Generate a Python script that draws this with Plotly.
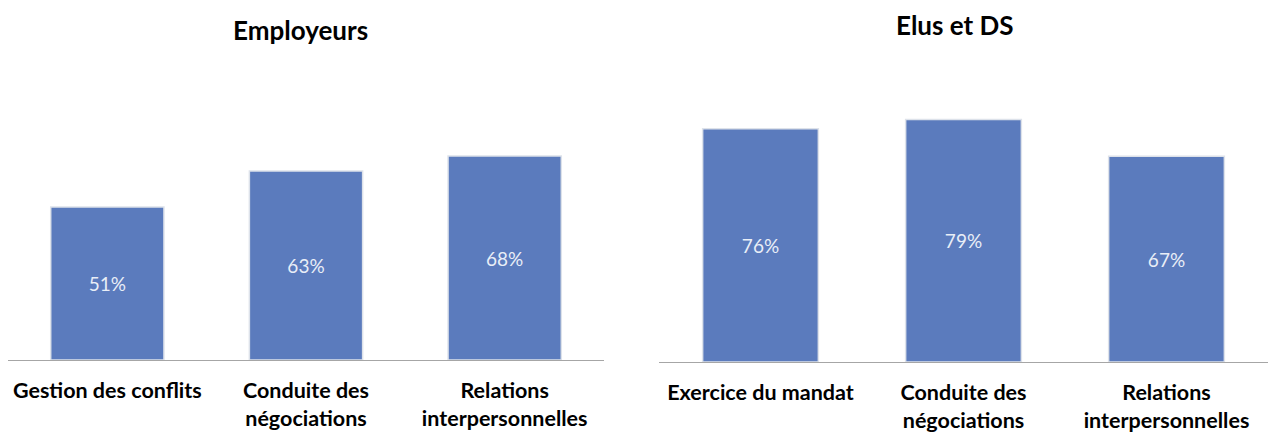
import plotly.graph_objects as go

# Data
employeurs_labels = ["Gestion des conflits", "Conduite des<br>négociations", "Relations<br>interpersonnelles"]
employeurs_values = [51, 63, 68]
elus_labels = ["Exercice du mandat", "Conduite des<br>négociations", "Relations<br>interpersonnelles"]
elus_values = [76, 79, 67]

W, H = 1268, 432
BAR_COLOR = "#5b7bbd"
FONT = "Lato"

fig = go.Figure()

def add_bars(labels, values, xa, ya):
    fig.add_trace(go.Bar(
        x=labels, y=values, xaxis=xa, yaxis=ya,
        width=0.57,
        marker=dict(color=BAR_COLOR, line=dict(color="#dde2ea", width=1.5)),
        texttemplate="%{y}%", textposition="inside", insidetextanchor="middle",
        textangle=0, constraintext="none",
        textfont=dict(family=FONT, size=19, color="#e9eef7"),
        showlegend=False, hoverinfo="skip",
    ))

add_bars(employeurs_labels, employeurs_values, "x", "y")
add_bars(elus_labels, elus_values, "x2", "y2")

def px_x(a, b):
    return [a / W, b / W]

def px_y(top, bottom):
    return [(H - bottom) / H, (H - top) / H]

axis_common = dict(
    showline=True, linecolor="#a6a6a6", linewidth=1,
    showgrid=False, zeroline=False, ticks="",
    automargin=False,
    ticklabelstandoff=11,
    tickfont=dict(family=FONT, size=21.5, color="#000000", weight="bold"),
)

fig.update_layout(
    width=W, height=H,
    margin=dict(l=0, r=0, t=0, b=0),
    paper_bgcolor="white", plot_bgcolor="white",
    xaxis=dict(domain=px_x(8, 604), anchor="y", **axis_common),
    yaxis=dict(domain=px_y(60, 360), range=[0, 100], visible=False, anchor="x"),
    xaxis2=dict(domain=px_x(659, 1268), anchor="y2", **axis_common),
    yaxis2=dict(domain=px_y(55, 362), range=[0, 100], visible=False, anchor="x2"),
    annotations=[
        dict(text="Employeurs", x=300 / W, y=1 - 30 / H, xref="paper", yref="paper",
             xanchor="center", yanchor="middle", showarrow=False,
             font=dict(family=FONT, size=26, color="#000000", weight="bold")),
        dict(text="Elus et DS", x=955 / W, y=1 - 25 / H, xref="paper", yref="paper",
             xanchor="center", yanchor="middle", showarrow=False,
             font=dict(family=FONT, size=26, color="#000000", weight="bold")),
    ],
)

fig.write_html("out.html")
